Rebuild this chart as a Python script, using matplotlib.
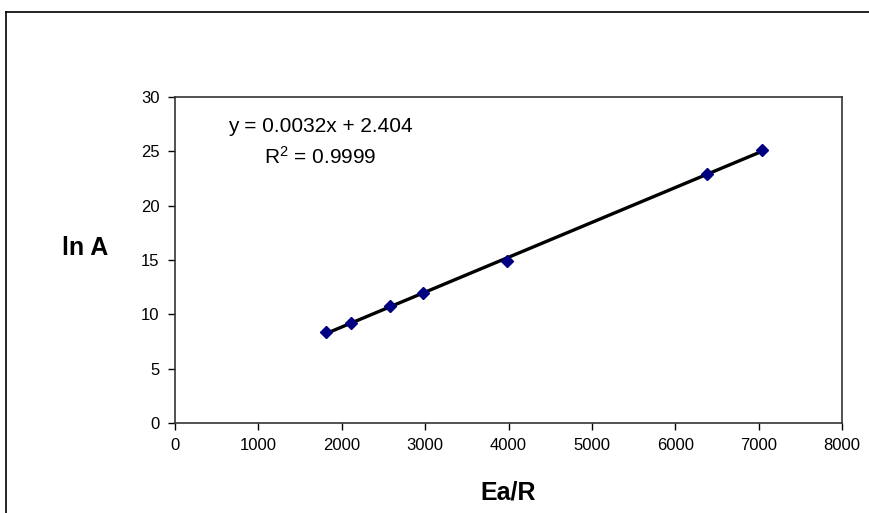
import numpy as np
import matplotlib.pyplot as plt
from matplotlib.lines import Line2D

plt.rcParams['font.family'] = ['Liberation Sans', 'DejaVu Sans']

# data
ea_r = [1810, 2110, 2580, 2970, 3980, 6380, 7040]
ln_a = [8.35, 9.17, 10.77, 11.94, 14.9, 22.9, 25.1]
slope, intercept = 0.0032, 2.404
r2 = 0.9999

fig = plt.figure(figsize=(8.7, 5.13), dpi=100)
ax = fig.add_axes([175/870, 90/513, 667/870, 326/513])

# linear trendline over the data range
xs = np.array([min(ea_r), max(ea_r)])
m, b = np.polyfit(ea_r, ln_a, 1)
ax.plot(xs, m*xs + b, color='black', lw=2.4, zorder=2)
ax.plot(ea_r, ln_a, 'D', color='#000080', ms=6.5, zorder=3)

ax.set_xlim(0, 8000)
ax.set_ylim(0, 30)
ax.set_xticks(range(0, 8001, 1000))
ax.set_yticks(range(0, 31, 5))
ax.tick_params(direction='out', length=5, width=1, labelsize=12, pad=6, colors='black')
for s in ax.spines.values():
    s.set_color('#333333')
    s.set_linewidth(1.2)

ax.set_xlabel('Ea/R', fontsize=18, fontweight='bold', va='center')
ax.xaxis.set_label_coords((508 - 175)/667, (423 - 493)/326)
ax.set_ylabel('ln A', fontsize=18, fontweight='bold', rotation=0, va='center', ha='center')
ax.yaxis.set_label_coords((85 - 175)/667, (423 - 248)/326)

ax.text(320/870, 1 - 127/513, 'y = %.4fx + %.3f' % (slope, intercept),
        transform=fig.transFigure, ha='center', va='center', fontsize=15)
ax.text(320/870, 1 - 157/513, '$\\mathregular{R^2}$ = %.4f' % r2,
        transform=fig.transFigure, ha='center', va='center', fontsize=15)

# outer chart-area frame (cut at right and bottom edges)
fig.add_artist(Line2D([6/870, 6/870], [0, 1 - 12/513], color='black', lw=1.2,
                      transform=fig.transFigure))
fig.add_artist(Line2D([6/870, 1], [1 - 12/513, 1 - 12/513], color='black', lw=1.2,
                      transform=fig.transFigure))

fig.savefig('out.png', dpi=100)
